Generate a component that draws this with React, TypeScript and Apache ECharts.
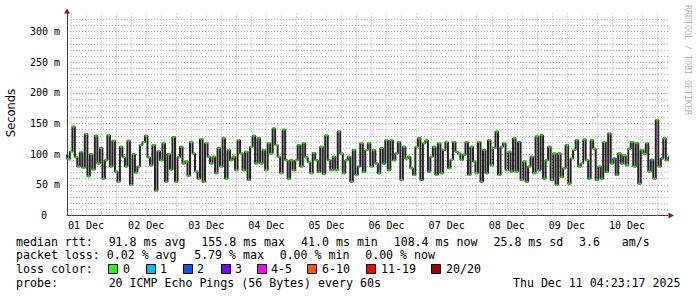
import React, { useEffect, useRef } from 'react';
import * as echarts from 'echarts';

// Median RTT (ms), one sample per hour, starting 04:00 on 01 Dec
const rttDay1to2 = [
  98, 92, 104, 145, 95, 80, 103, 78, 133, 64,
  100, 75, 130, 85, 110, 60, 90, 131, 80, 122,
  72, 55, 112, 95, 80, 122, 50, 100, 70, 80,
  115, 120, 130, 95, 82, 115, 41, 105, 90, 118,
  55, 100, 75, 128, 55, 95, 112, 85,
];
const rttDay3to4 = [
  88, 65, 120, 101, 72, 60, 125, 55, 118, 96,
  85, 96, 69, 110, 80, 126, 60, 107, 90, 96,
  74, 123, 101, 74, 104, 58, 112, 130, 85, 126,
  85, 107, 74, 118, 101, 142, 115, 96, 69, 140,
  90, 60, 90, 74, 90, 115, 80, 118,
];
const rttDay5to6 = [
  95, 87, 69, 102, 90, 71, 112, 68, 131, 90,
  74, 96, 74, 137, 101, 69, 90, 96, 55, 107,
  66, 80, 118, 71, 107, 118, 80, 107, 85, 69,
  110, 85, 123, 74, 123, 90, 101, 120, 58, 112,
  93, 96, 77, 66, 112, 126, 58, 118,
];
const rttDay7to8 = [
  123, 72, 96, 112, 66, 118, 69, 107, 120, 77,
  91, 120, 104, 101, 91, 99, 120, 66, 112, 88,
  69, 120, 55, 107, 69, 123, 82, 110, 137, 66,
  112, 118, 74, 104, 72, 126, 72, 120, 58, 88,
  55, 80, 96, 69, 129, 74, 131, 60,
];
const rttDay9to10 = [
  90, 112, 58, 101, 50, 101, 63, 77, 115, 52,
  93, 107, 123, 80, 85, 124, 90, 60, 123, 109,
  58, 80, 60, 120, 71, 134, 85, 93, 66, 101,
  85, 98, 82, 109, 120, 80, 118, 52, 107, 101,
  118, 72, 91, 60, 156, 80, 93, 126, 90, 95,
];
const medianRtt = [...rttDay1to2, ...rttDay3to4, ...rttDay5to6, ...rttDay7to8, ...rttDay9to10];

// sample indices where 1 of 20 pings was lost
const oneLostSamples = [6, 117, 127, 142, 145, 181, 189, 194, 219, 234, 238];

const firstSampleHour = 4; // hours since 01 Dec 00:00
const sampleStepHours = 1;
const axisStartHour = 4.38;
const axisEndHour = 244.38;

const dayLabels = ['01 Dec', '02 Dec', '03 Dec', '04 Dec', '05 Dec', '06 Dec', '07 Dec', '08 Dec', '09 Dec', '10 Dec'];
const dayLabelHours = [12, 36, 60, 84, 108, 132, 156, 180, 204, 228];
const gridHours = Array.from({ length: 40 }, (_, i) => (i + 1) * 6);

const yMax = 330;
const yLabelStep = 50;

const lossLegend = [
  { label: '0', color: '#26ff00' },
  { label: '1', color: '#00b8ff' },
  { label: '2', color: '#0059ff' },
  { label: '3', color: '#7e00ff' },
  { label: '4-5', color: '#ff00ff' },
  { label: '6-10', color: '#ff5500' },
  { label: '11-19', color: '#ff0000' },
  { label: '20/20', color: '#a10000' },
];
const lossBoxX = [108, 146, 183, 221, 257, 307, 366, 431];
const lossTextX = [123, 160, 197, 235, 271, 322, 381, 446];

const row1 = 'median rtt:  91.8 ms avg  155.8 ms max  41.0 ms min  108.4 ms now  25.8 ms sd  3.6   am/s';
const row2 = 'packet loss: 0.02 % avg  5.79 % max  0.00 % min  0.00 % now';
const row3 = 'loss color:';
const row4 = 'probe:       20 ICMP Echo Pings (56 Bytes) every 60s';
const stampText = 'Thu Dec 11 04:23:17 2025';

const MONO = '"DejaVu Sans Mono", "Liberation Mono", monospace';
const CHAR_W = 7.126;
const LEFT = 16;

function rowTexts(s: string, y: number) {
  const out: any[] = [];
  const re = /\S+(?: \S+)*/g;
  let m: RegExpExecArray | null;
  while ((m = re.exec(s))) {
    out.push({
      type: 'text',
      x: LEFT + m.index * CHAR_W,
      y,
      silent: true,
      style: { text: m[0], font: `11.6px ${MONO}`, fill: '#000', verticalAlign: 'middle', align: 'left' },
    });
  }
  return out;
}

export default function App() {
  const ref = useRef<HTMLDivElement>(null);
  useEffect(() => {
    if (!ref.current) return;
    const chart = echarts.init(ref.current, undefined, { renderer: 'svg' });
    const red = '#e58a8a';
    const grey = '#b4b4b4';
    const lossSet = new Set(oneLostSamples);
    const pts = medianRtt.map((v, i) => [firstSampleHour + i * sampleStepHours, v]);

    const graphic: any[] = [
      ...rowTexts(row1, 241.7),
      ...rowTexts(row2, 255),
      ...rowTexts(row3, 269.3),
      ...rowTexts(row4, 282.7),
      {
        type: 'text', x: 680.5, y: 282.7, silent: true,
        style: { text: stampText, font: `11.6px ${MONO}`, fill: '#000', align: 'right', verticalAlign: 'middle' },
      },
      {
        type: 'text', x: 10.5, y: 113, rotation: Math.PI / 2, silent: true,
        style: { text: 'Seconds', font: '11.5px "DejaVu Sans", sans-serif', fill: '#000', align: 'center', verticalAlign: 'middle' },
      },
      {
        type: 'text', x: 687.5, y: 60, rotation: -Math.PI / 2, silent: true,
        style: { text: 'RRDTOOL / TOBI OETIKER', font: `8.3px ${MONO}`, fill: '#b8b8b8', align: 'center', verticalAlign: 'middle' },
      },
      {
        type: 'polygon', silent: true,
        shape: { points: [[64, 13.5], [70, 13.5], [67, 8.5]] },
        style: { fill: '#7f1f1f' },
      },
      {
        type: 'polygon', silent: true,
        shape: { points: [[668.5, 212.5], [668.5, 218.5], [674, 215.5]] },
        style: { fill: '#7f1f1f' },
      },
    ];
    lossLegend.forEach((it, i) => {
      graphic.push({
        type: 'rect', silent: true,
        shape: { x: lossBoxX[i] + 0.5, y: 264.5, width: 9, height: 9 },
        style: { fill: it.color, stroke: '#000', lineWidth: 1 },
      });
      graphic.push({
        type: 'text', x: lossTextX[i], y: 269.3, silent: true,
        style: { text: it.label, font: `11.6px ${MONO}`, fill: '#000', align: 'left', verticalAlign: 'middle' },
      });
    });

    chart.setOption({
      animation: false,
      backgroundColor: '#ffffff',
      grid: { left: 67, top: 13.3, width: 601, height: 202.2 },
      xAxis: {
        type: 'value',
        min: axisStartHour,
        max: axisEndHour,
        axisLine: { show: true, lineStyle: { color: '#404040', width: 1 } },
        axisTick: { show: false },
        splitLine: { show: false },
        axisLabel: {
          customValues: dayLabelHours,
          formatter: (v: number) => {
            const k = dayLabelHours.indexOf(Math.round(v));
            return k >= 0 ? dayLabels[k] : '';
          },
          fontFamily: MONO,
          fontSize: 10,
          color: '#000',
          margin: 5,
        },
      },
      yAxis: {
        type: 'value',
        min: 0,
        max: yMax,
        interval: 10,
        axisLine: { show: true, lineStyle: { color: '#404040', width: 1 } },
        axisTick: { show: false },
        splitLine: {
          show: true,
          showMinLine: true,
          showMaxLine: false,
          lineStyle: { color: [red, grey, grey, grey, grey], type: [1, 2], width: 1 },
        },
        axisLabel: {
          formatter: (v: number) => {
            if (v % yLabelStep !== 0 || v > 300) return '';
            return v === 0 ? '{z|0}' : `${v} m`;
          },
          rich: { z: { padding: [0, 13, 0, 0], fontFamily: MONO, fontSize: 10, color: '#000' } },
          fontFamily: MONO,
          fontSize: 10,
          color: '#000',
          margin: 7,
        },
      },
      series: [
        {
          type: 'line',
          data: [],
          silent: true,
          z: 1,
          markLine: {
            silent: true,
            symbol: ['none', 'none'],
            label: { show: false },
            emphasis: { disabled: true },
            animation: false,
            data: gridHours.map((h) => ({
              xAxis: h,
              lineStyle: { color: h % 24 === 0 ? red : grey, type: [1, 2], width: 1 },
            })),
          },
        },
        {
          type: 'line',
          data: pts,
          step: 'middle',
          showSymbol: false,
          silent: true,
          z: 3,
          lineStyle: { color: '#232323', width: 2 },
        },
        {
          type: 'scatter',
          silent: true,
          z: 4,
          symbol: 'rect',
          symbolSize: [3, 2],
          data: pts.map((p, i) => ({
            value: p,
            itemStyle: { color: lossSet.has(i) ? lossLegend[1].color : lossLegend[0].color },
          })),
        },
      ],
      graphic,
    });
    return () => chart.dispose();
  }, []);
  return <div ref={ref} style={{ position: 'absolute', left: 0, top: 0, width: 697, height: 297 }} />;
}
